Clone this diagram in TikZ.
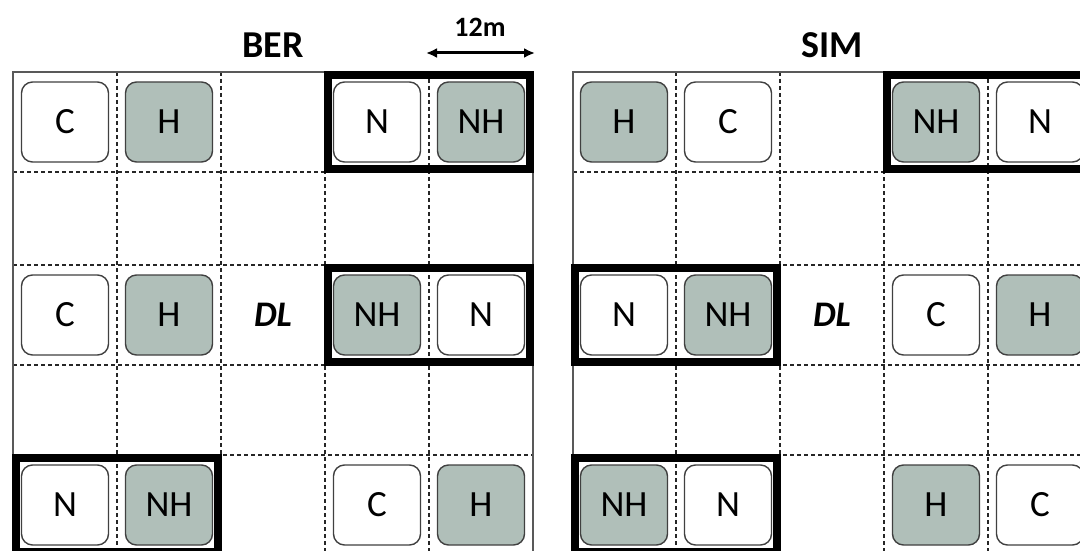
\documentclass[tikz,border=0pt]{standalone}
\usepackage{fontspec}
\setmainfont{Carlito}
\usetikzlibrary{fit, arrows.meta}

\definecolor{hfill}{RGB}{176,191,185}

\begin{document}
\begin{tikzpicture}[
      x=1pt, y=-1pt,
      plotbox/.style={draw=black!75, line width=1.4pt, rounded corners=11pt, inner sep=0pt,
                      minimum width=87pt, minimum height=80pt, font=\fontsize{37}{37}\selectfont},
      openplot/.style={plotbox, fill=white},
      filledplot/.style={plotbox, fill=hfill},
      pairframe/.style={draw, line width=8pt, inner xsep=5pt, inner ysep=6pt},
      gridline/.style={draw=black!85, line width=1.6pt, dash pattern=on 4pt off 3pt},
      border/.style={draw=black!65, line width=1.3pt},
      title/.style={font=\fontsize{38}{38}\selectfont\bfseries},
      scalebar/.style={line width=3pt, {Latex[length=11pt,width=10pt]}-{Latex[length=11pt,width=10pt]}}
    ]

    \clip (0,0) rectangle (1080,551);

    % BER grid
    \draw[gridline] (117,72) -- (117,560) (221,72) -- (221,560) (325,72) -- (325,560) (429,72) -- (429,560)
                    (13,172) -- (533,172) (13,265) -- (533,265) (13,365) -- (533,365) (13,455) -- (533,455);
    \draw[border] (13,560) -- (13,72) -- (533,72) -- (533,560);

    % SIM grid
    \draw[gridline] (676,72) -- (676,560) (780,72) -- (780,560) (884,72) -- (884,560) (988,72) -- (988,560)
                    (573,172) -- (1092,172) (573,265) -- (1092,265) (573,365) -- (1092,365) (573,455) -- (1092,455);
    \draw[border] (573,560) -- (573,72) -- (1092,72);

    \node[title] (ber) at (273,45) {BER};
    \node[title] (sim) at (832,45) {SIM};

    \node[font=\fontsize{28}{28}\selectfont\bfseries] (scale) at (480,27) {12m};
    \coordinate (scale-l) at (426,53);
    \coordinate (scale-r) at (535,53);
    \draw[scalebar] (scale-l) -- (scale-r);

    % BER plots
    \node[openplot]   (ber-c1)  at (65,122)  {C};
    \node[filledplot] (ber-h1)  at (169,122) {H};
    \node[openplot]   (ber-n1)  at (377,122) {N};
    \node[filledplot] (ber-nh1) at (481,122) {NH};

    \node[openplot]   (ber-c2)  at (65,315)  {C};
    \node[filledplot] (ber-h2)  at (169,315) {H};
    \node[font=\fontsize{36}{36}\selectfont\bfseries\itshape] (ber-dl) at (273,315) {DL};
    \node[filledplot] (ber-nh2) at (377,315) {NH};
    \node[openplot]   (ber-n2)  at (481,315) {N};

    \node[openplot]   (ber-n3)  at (65,505)  {N};
    \node[filledplot] (ber-nh3) at (169,505) {NH};
    \node[openplot]   (ber-c3)  at (377,505) {C};
    \node[filledplot] (ber-h3)  at (481,505) {H};

    % SIM plots
    \node[filledplot] (sim-h1)  at (624,122) {H};
    \node[openplot]   (sim-c1)  at (728,122) {C};
    \node[filledplot] (sim-nh1) at (936,122) {NH};
    \node[openplot]   (sim-n1)  at (1040,122) {N};

    \node[openplot]   (sim-n2)  at (624,315) {N};
    \node[filledplot] (sim-nh2) at (728,315) {NH};
    \node[font=\fontsize{36}{36}\selectfont\bfseries\itshape] (sim-dl) at (832,315) {DL};
    \node[openplot]   (sim-c2)  at (936,315) {C};
    \node[filledplot] (sim-h2)  at (1040,315) {H};

    \node[filledplot] (sim-nh3) at (624,505) {NH};
    \node[openplot]   (sim-n3)  at (728,505) {N};
    \node[filledplot] (sim-h3)  at (936,505) {H};
    \node[openplot]   (sim-c3)  at (1040,505) {C};

    % N / NH pairs
    \node[pairframe, fit=(ber-n1)(ber-nh1)] (ber-pair1) {};
    \node[pairframe, fit=(ber-nh2)(ber-n2)] (ber-pair2) {};
    \node[pairframe, fit=(ber-n3)(ber-nh3)] (ber-pair3) {};
    \node[pairframe, fit=(sim-nh1)(sim-n1)] (sim-pair1) {};
    \node[pairframe, fit=(sim-n2)(sim-nh2)] (sim-pair2) {};
    \node[pairframe, fit=(sim-nh3)(sim-n3)] (sim-pair3) {};

\end{tikzpicture}
\end{document}
